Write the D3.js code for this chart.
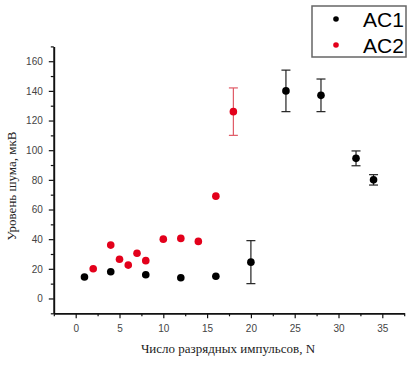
<!DOCTYPE html>
<html>
<head>
<meta charset="utf-8">
<script src="https://cdn.jsdelivr.net/npm/d3@7"></script>
<style>
  body { margin: 0; background: #fff; }
  svg { display: block; }
</style>
</head>
<body>
<svg width="418" height="378"></svg>
<script>
// données
const ac1_n = [1, 4, 8, 12, 16, 20, 24, 28, 32, 34];
const ac1_u = [14.5, 18, 16, 14, 15, 24.5, 140, 137, 94.5, 80];
const ac1_err = [2, 1, 1, 1, 1.5, 14.5, 14, 11, 5, 3.5];

const ac2_n = [2, 4, 5, 6, 7, 8, 10, 12, 14, 16, 18];
const ac2_u = [20, 36, 26.5, 22.5, 30.5, 25.5, 40, 40.5, 38.5, 69, 126];
const ac2_err = [0, 2, 0, 0, 0, 0, 0, 1, 0, 2, 16];

const ticks_x = [0, 5, 10, 15, 20, 25, 30, 35];
const ticks_y = [0, 20, 40, 60, 80, 100, 120, 140, 160];

const svg = d3.select('svg');

const x = d3.scaleLinear().domain([-2.5, 37.5]).range([53.8, 404.2]);
const y = d3.scaleLinear().domain([-10, 170]).range([313.3, 46.4]);

// petites graduations
const minor_x = d3.range(-2.5, 37.6, 2.5).filter(v => !ticks_x.includes(v));
const minor_y = d3.range(-10, 171, 10).filter(v => !ticks_y.includes(v));

const gx = svg.append('g').attr('transform', 'translate(0,313.3)');
gx.call(d3.axisBottom(x).tickValues(minor_x).tickSize(3).tickSizeOuter(0).tickFormat(''));
gx.append('g').call(d3.axisBottom(x).tickValues(ticks_x).tickSize(5).tickSizeOuter(0));

const gy = svg.append('g').attr('transform', 'translate(53.8,0)');
gy.call(d3.axisLeft(y).tickValues(minor_y).tickSize(3).tickSizeOuter(0).tickFormat(''));
gy.append('g').call(d3.axisLeft(y).tickValues(ticks_y).tickSize(5).tickSizeOuter(0));

svg.selectAll('.domain').attr('stroke', '#111').attr('stroke-width', 1.6);
svg.selectAll('.tick line').attr('stroke', '#111').attr('stroke-width', 1.2);
svg.selectAll('.tick text')
  .attr('fill', '#444')
  .style('font-family', 'Liberation Sans, Arial, sans-serif')
  .style('font-size', '10px');
gx.selectAll('.tick text').attr('dy', '1.05em');
gy.selectAll('.tick text').attr('dx', '-0.3em');

// titres des axes
svg.append('text')
  .attr('x', 228).attr('y', 353)
  .attr('text-anchor', 'middle')
  .style('font-family', 'Liberation Serif, Times New Roman, serif')
  .style('font-size', '13px')
  .attr('fill', '#222')
  .text('Число разрядных импульсов, N');

svg.append('text')
  .attr('transform', 'translate(16,186) rotate(-90)')
  .attr('text-anchor', 'middle')
  .style('font-family', 'Liberation Serif, Times New Roman, serif')
  .style('font-size', '13px')
  .attr('fill', '#222')
  .text('Уровень шума, мкВ');

// séries avec barres d'erreur
function draw_series(ns, us, errs, color, barColor) {
  const g = svg.append('g');
  ns.forEach((n, i) => {
    const e = errs[i];
    if (e > 0) {
      const cx = x(n), top = y(us[i] + e), bot = y(us[i] - e);
      g.append('line').attr('x1', cx).attr('x2', cx).attr('y1', top).attr('y2', bot)
        .attr('stroke', barColor).attr('stroke-width', 1.2);
      if (e > 3) {
        [top, bot].forEach(yy => {
          g.append('line').attr('x1', cx - 4.5).attr('x2', cx + 4.5).attr('y1', yy).attr('y2', yy)
            .attr('stroke', barColor).attr('stroke-width', 1.2);
        });
      }
    }
  });
  g.selectAll('circle').data(ns).join('circle')
    .attr('cx', d => x(d))
    .attr('cy', (d, i) => y(us[i]))
    .attr('r', 3.8)
    .attr('fill', color);
}

draw_series(ac1_n, ac1_u, ac1_err, '#000', '#222');
draw_series(ac2_n, ac2_u, ac2_err, '#e3001b', '#e05a66');

// légende
const leg = svg.append('g');
leg.append('rect').attr('x', 312).attr('y', 6).attr('width', 94).attr('height', 51)
  .attr('fill', '#fff').attr('stroke', '#666').attr('stroke-width', 1.5);
[['AC1', '#000', 19], ['AC2', '#e3001b', 45]].forEach(([name, c, yy]) => {
  leg.append('circle').attr('cx', 336).attr('cy', yy).attr('r', 2.8).attr('fill', c);
  leg.append('text').attr('x', 363).attr('y', yy + 8)
    .style('font-family', 'Liberation Sans, Arial, sans-serif')
    .style('font-size', '21px')
    .attr('fill', '#000')
    .text(name);
});
</script>
</body>
</html>
